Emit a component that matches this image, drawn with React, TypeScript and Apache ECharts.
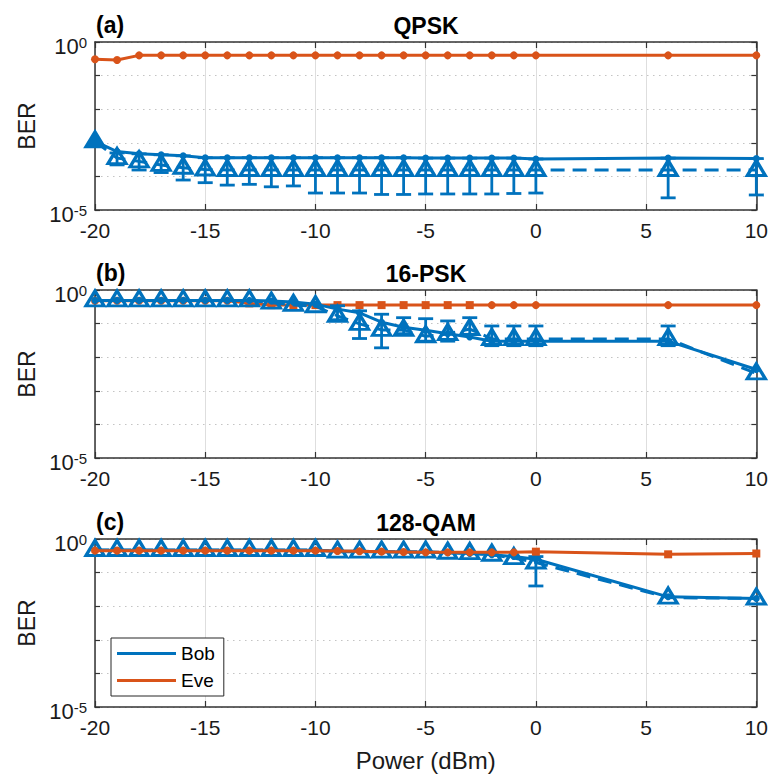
import React, { useEffect, useRef } from 'react';
import * as echarts from 'echarts';

const BLUE = '#0072BD';
const ORANGE = '#D95319';
const FONT = '"Liberation Sans", Arial, Helvetica, sans-serif';

// ---------- data ----------
const powers = [-20, -19, -18, -17, -16, -15, -14, -13, -12, -11, -10, -9, -8, -7, -6, -5, -4, -3, -2, -1, 0, 6, 10];

// (a) QPSK
const eveA = [0.305, 0.29, 0.4, 0.4, 0.4, 0.4, 0.4, 0.4, 0.4, 0.4, 0.4, 0.4, 0.4, 0.4, 0.4, 0.4, 0.4, 0.4, 0.4, 0.4, 0.4, 0.4, 0.4];
const bobMeanA = [1.1e-3, 5.5e-4, 4.7e-4, 4.4e-4, 4.1e-4, 3.6e-4, 3.6e-4, 3.6e-4, 3.6e-4, 3.6e-4, 3.6e-4, 3.6e-4, 3.6e-4, 3.6e-4, 3.6e-4, 3.5e-4, 3.5e-4, 3.5e-4, 3.5e-4, 3.5e-4, 3.3e-4, 3.5e-4, 3.4e-4];
const bobMedA = [1.1e-3, 3.5e-4, 2.8e-4, 2.2e-4, 1.8e-4, 1.6e-4, 1.55e-4, 1.55e-4, 1.55e-4, 1.55e-4, 1.55e-4, 1.55e-4, 1.55e-4, 1.55e-4, 1.55e-4, 1.55e-4, 1.55e-4, 1.55e-4, 1.55e-4, 1.55e-4, 1.55e-4, 1.55e-4, 1.55e-4];
const bobLowA = [1.1e-3, 2.2e-4, 1.55e-4, 1.3e-4, 7.8e-5, 6.5e-5, 5.5e-5, 5.8e-5, 4.9e-5, 5.2e-5, 3.2e-5, 3.2e-5, 3.2e-5, 2.9e-5, 2.9e-5, 3.0e-5, 3.0e-5, 3.0e-5, 3.0e-5, 3.1e-5, 3.2e-5, 2.3e-5, 2.8e-5];
const bobHighA = [1.1e-3, 5.0e-4, 4.7e-4, 4.4e-4, 4.1e-4, 3.6e-4, 3.6e-4, 3.6e-4, 3.6e-4, 3.6e-4, 3.6e-4, 3.6e-4, 3.6e-4, 3.6e-4, 3.6e-4, 3.5e-4, 3.5e-4, 3.5e-4, 3.5e-4, 3.5e-4, 3.3e-4, 3.5e-4, 3.4e-4];

// (b) 16-PSK
const eveB = [0.48, 0.48, 0.48, 0.48, 0.48, 0.48, 0.48, 0.4, 0.355, 0.355, 0.355, 0.355, 0.355, 0.355, 0.355, 0.355, 0.355, 0.355, 0.355, 0.355, 0.355, 0.355, 0.355];
const bobMeanB = [0.49, 0.49, 0.49, 0.49, 0.49, 0.49, 0.49, 0.49, 0.47, 0.44, 0.38, 0.27, 0.21, 0.11, 0.078, 0.063, 0.05, 0.04, 0.03, 0.03, 0.03, 0.03, 4.3e-3];
const bobMedB = [0.49, 0.49, 0.49, 0.49, 0.49, 0.49, 0.49, 0.49, 0.42, 0.36, 0.33, 0.17, 0.098, 0.065, 0.065, 0.042, 0.049, 0.069, 0.035, 0.035, 0.035, 0.035, 3.3e-3];
const bobLowB = [0.49, 0.49, 0.49, 0.49, 0.49, 0.49, 0.49, 0.49, 0.42, 0.36, 0.33, 0.13, 0.036, 0.019, 0.05, 0.03, 0.03, 0.048, 0.022, 0.022, 0.022, 0.022, 3.3e-3];
const bobHighB = [0.49, 0.49, 0.49, 0.49, 0.49, 0.49, 0.49, 0.49, 0.42, 0.36, 0.33, 0.34, 0.24, 0.19, 0.15, 0.14, 0.12, 0.15, 0.085, 0.085, 0.085, 0.085, 3.3e-3];

// (c) 128-QAM
const eveC = [0.45, 0.45, 0.45, 0.45, 0.45, 0.45, 0.45, 0.45, 0.45, 0.45, 0.45, 0.44, 0.43, 0.42, 0.41, 0.4, 0.4, 0.4, 0.4, 0.4, 0.42, 0.35, 0.37];
const bobMeanC = [0.46, 0.46, 0.46, 0.46, 0.46, 0.46, 0.46, 0.46, 0.46, 0.46, 0.46, 0.44, 0.43, 0.42, 0.41, 0.4, 0.39, 0.37, 0.34, 0.3, 0.25, 0.019, 0.017];
const bobMedC = [0.47, 0.47, 0.47, 0.47, 0.47, 0.47, 0.47, 0.47, 0.47, 0.47, 0.47, 0.42, 0.42, 0.42, 0.42, 0.42, 0.39, 0.38, 0.34, 0.27, 0.2, 0.018, 0.017];
const bobLowC = [0.47, 0.47, 0.47, 0.47, 0.47, 0.47, 0.47, 0.47, 0.47, 0.47, 0.47, 0.42, 0.42, 0.42, 0.42, 0.42, 0.39, 0.38, 0.34, 0.27, 0.04, 0.018, 0.017];
const bobHighC = [0.47, 0.47, 0.47, 0.47, 0.47, 0.47, 0.47, 0.47, 0.47, 0.47, 0.47, 0.42, 0.42, 0.42, 0.42, 0.42, 0.39, 0.38, 0.34, 0.27, 0.3, 0.018, 0.017];

// Eve marker shapes per point
const eveSymbolsA = powers.map(() => 'circle');
const eveSymbolsB = powers.map((p) => (p >= -13 && p <= -3 ? 'rect' : 'circle'));
const eveSymbolsC = powers.map((p) => (p >= 0 ? 'rect' : 'circle'));

const panelTitles = ['QPSK', '16-PSK', '128-QAM'];
const panelTags = ['(a)', '(b)', '(c)'];
const xMin = -20;
const xMax = 10;
const xInterval = 5;
const yMin = 1e-5;
const yMax = 1;
const yLabelExponents = [0, -5];
const legendNames = ['Bob', 'Eve'];

// ---------- layout ----------
const GRID_LEFT = 95;
const GRID_WIDTH = 662;
const GRID_TOPS = [42, 290, 539];
const GRID_H = 168;

const panels = [
  { eve: eveA, mean: bobMeanA, med: bobMedA, low: bobLowA, high: bobHighA, eveSym: eveSymbolsA, bobOnTop: false },
  { eve: eveB, mean: bobMeanB, med: bobMedB, low: bobLowB, high: bobHighB, eveSym: eveSymbolsB, bobOnTop: true },
  { eve: eveC, mean: bobMeanC, med: bobMedC, low: bobLowC, high: bobHighC, eveSym: eveSymbolsC, bobOnTop: false },
];

const TRI_SIZE = [18, 15];
const TRI_OFFSET = [0, -2];

function errRender(_params: any, api: any) {
  const x = api.value(0);
  const lo = api.value(1);
  const hi = api.value(2);
  const pLo = api.coord([x, lo]);
  const pHi = api.coord([x, hi]);
  const w = 7.5;
  const style = { stroke: BLUE, lineWidth: 2.8, fill: 'none' };
  return {
    type: 'group',
    children: [
      { type: 'line', shape: { x1: pLo[0], y1: pLo[1], x2: pHi[0], y2: pHi[1] }, style },
      { type: 'line', shape: { x1: pLo[0] - w, y1: pLo[1], x2: pLo[0] + w, y2: pLo[1] }, style },
      { type: 'line', shape: { x1: pHi[0] - w, y1: pHi[1], x2: pHi[0] + w, y2: pHi[1] }, style },
    ],
  };
}

function buildOption() {
  const axisColor = '#333333';
  const grid: any[] = [];
  const xAxis: any[] = [];
  const yAxis: any[] = [];
  const series: any[] = [];

  GRID_TOPS.forEach((top, i) => {
    grid.push({ left: GRID_LEFT, top, width: GRID_WIDTH, height: GRID_H, containLabel: false });
    const common = {
      type: 'value',
      gridIndex: i,
      min: xMin,
      max: xMax,
      interval: xInterval,
      axisLine: { show: true, onZero: false, lineStyle: { color: axisColor, width: 1.5 } },
      axisTick: { show: true, inside: true, length: 6, lineStyle: { color: axisColor, width: 1.2 } },
    };
    xAxis.push({
      ...common,
      position: 'bottom',
      axisLabel: { show: true, fontSize: 21, color: '#1a1a1a', fontFamily: FONT, margin: 10 },
      splitLine: { show: true, lineStyle: { color: '#dedede', width: 1 } },
      name: i === 2 ? 'Power (dBm)' : '',
      nameLocation: 'middle',
      nameGap: 41,
      nameTextStyle: { fontSize: 24, color: '#1a1a1a', fontFamily: FONT },
    });
    xAxis.push({
      ...common,
      position: 'top',
      axisLabel: { show: false },
      splitLine: { show: false },
    });
    const ycommon = {
      type: 'log',
      logBase: 10,
      gridIndex: i,
      min: yMin,
      max: yMax,
      splitNumber: 5,
      axisLine: { show: true, onZero: false, lineStyle: { color: axisColor, width: 1.5 } },
      axisTick: { show: true, inside: true, length: 5, lineStyle: { color: axisColor, width: 1.2 } },
    };
    yAxis.push({
      ...ycommon,
      position: 'left',
      name: 'BER',
      nameLocation: 'middle',
      nameGap: 56,
      nameTextStyle: { fontSize: 23, color: '#1a1a1a', fontFamily: FONT },
      axisLabel: {
        show: true,
        margin: 8,
        padding: [8, 0, 0, 0],
        formatter: (v: number) => {
          const e = Math.round(Math.log10(v));
          return yLabelExponents.includes(e) ? `{b|10}{s|${e}}` : '';
        },
        rich: {
          b: { fontSize: 22, lineHeight: 22, color: '#1a1a1a', fontFamily: FONT, verticalAlign: 'bottom' },
          s: { fontSize: 15, lineHeight: 15, color: '#1a1a1a', fontFamily: FONT, verticalAlign: 'top', padding: [0, 0, 10, 0] },
        },
      },
      splitLine: { show: true, lineStyle: { color: '#c4c4c4', width: 1.2, type: [1.5, 4.5] } },
    });
    yAxis.push({
      ...ycommon,
      position: 'right',
      axisLabel: { show: false },
      splitLine: { show: false },
    });

    const p = panels[i];
    const xi = 2 * i;
    const yi = 2 * i;
    const bobZ = p.bobOnTop ? 6 : 3;
    const eveZ = p.bobOnTop ? 2 : 7;

    // Bob mean (solid)
    series.push({
      type: 'line',
      name: 'Bob',
      xAxisIndex: xi,
      yAxisIndex: yi,
      silent: true,
      z: bobZ + 1,
      data: powers.map((x, k) => {
        if (i === 0 && k === 0) {
          return { value: [x, p.mean[k]], symbol: 'triangle', symbolSize: TRI_SIZE, symbolOffset: TRI_OFFSET };
        }
        return [x, p.mean[k]];
      }),
      symbol: 'circle',
      symbolSize: 7,
      lineStyle: { color: BLUE, width: 3 },
      itemStyle: { color: BLUE },
      color: BLUE,
    });
    // Bob median (dashed, open triangles)
    series.push({
      type: 'line',
      name: 'Bob median',
      xAxisIndex: xi,
      yAxisIndex: yi,
      silent: true,
      z: bobZ,
      data: powers.map((x, k) => [x, p.med[k]]),
      symbol: 'triangle',
      symbolSize: TRI_SIZE,
      symbolOffset: TRI_OFFSET,
      lineStyle: { color: BLUE, width: 3, type: [14, 8] },
      itemStyle: { color: 'rgba(255,255,255,0)', borderColor: BLUE, borderWidth: 3.2 },
    });
    // Error bars
    series.push({
      type: 'custom',
      name: 'Bob error',
      xAxisIndex: xi,
      yAxisIndex: yi,
      silent: true,
      z: bobZ,
      renderItem: errRender,
      encode: { x: 0, y: [1, 2] },
      data: powers
        .map((x, k) => [x, p.low[k], p.high[k]])
        .filter((d) => d[1] !== d[2]),
    });
    // Eve
    series.push({
      type: 'line',
      name: 'Eve',
      xAxisIndex: xi,
      yAxisIndex: yi,
      silent: true,
      z: eveZ,
      data: powers.map((x, k) => ({ value: [x, p.eve[k]], symbol: p.eveSym[k] })),
      symbolSize: 8,
      lineStyle: { color: ORANGE, width: 3 },
      itemStyle: { color: ORANGE },
      color: ORANGE,
    });
  });

  const graphic: any[] = [];
  GRID_TOPS.forEach((top, i) => {
    graphic.push({
      type: 'text',
      x: GRID_LEFT + GRID_WIDTH / 2,
      y: top - 16,
      silent: true,
      style: {
        text: panelTitles[i],
        font: `bold 23px ${FONT}`,
        fill: '#000',
        textAlign: 'center',
        textVerticalAlign: 'middle',
      },
    });
    graphic.push({
      type: 'text',
      x: GRID_LEFT + 1,
      y: top - 17,
      silent: true,
      style: {
        text: panelTags[i],
        font: `bold 23px ${FONT}`,
        fill: '#000',
        textAlign: 'left',
        textVerticalAlign: 'middle',
      },
    });
  });

  return {
    animation: false,
    backgroundColor: '#ffffff',
    grid,
    xAxis,
    yAxis,
    series,
    graphic,
    legend: {
      show: true,
      orient: 'vertical',
      left: 111,
      top: 638,
      data: legendNames.map((n, k) => ({ name: n, itemStyle: { color: k === 0 ? BLUE : ORANGE } })),
      icon: 'rect',
      itemWidth: 59,
      itemHeight: 3,
      itemGap: 8,
      padding: [6, 9, 6, 6],
      borderColor: '#262626',
      borderWidth: 1,
      backgroundColor: '#ffffff',
      selectedMode: false,
      textStyle: { fontSize: 19, color: '#000', fontFamily: FONT },
      z: 20,
    },
  };
}

export default function App() {
  const ref = useRef<HTMLDivElement>(null);
  useEffect(() => {
    if (!ref.current) return;
    const chart = echarts.init(ref.current, null, { renderer: 'svg' });
    chart.setOption(buildOption() as any);
    return () => {
      chart.dispose();
    };
  }, []);
  return <div ref={ref} style={{ position: 'absolute', left: 0, top: 0, width: 771, height: 775 }} />;
}
